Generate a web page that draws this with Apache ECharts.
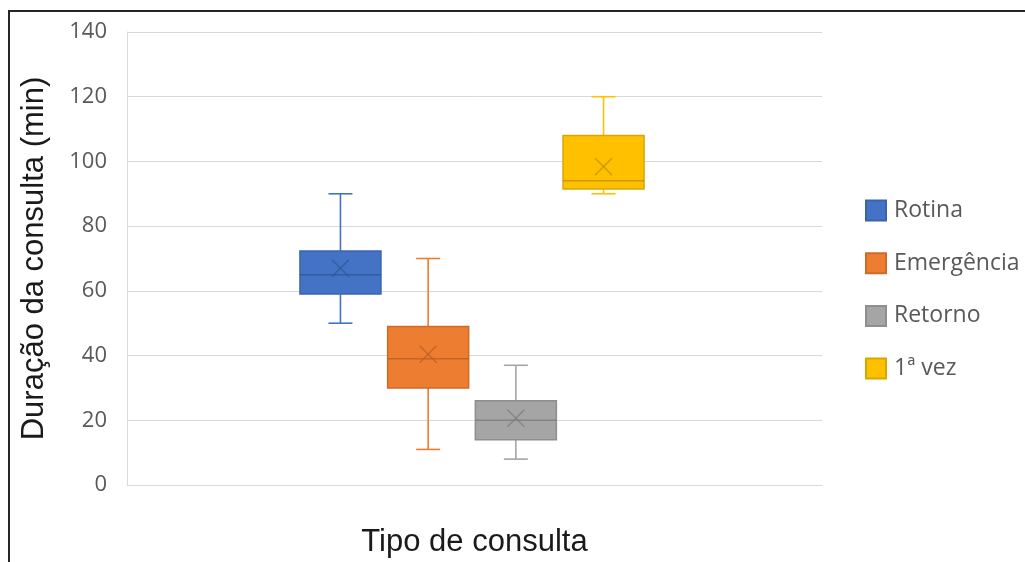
<!DOCTYPE html>
<html>
<head>
<meta charset="utf-8">
<script src="https://cdn.jsdelivr.net/npm/echarts@6/dist/echarts.min.js"></script>
<style>
html,body{margin:0;padding:0;background:#fff;}
#chart{width:1025px;height:562px;}
</style>
</head>
<body>
<div id="chart"></div>
<script>
// ---- data ----
const categories = ['Rotina', 'Emergência', 'Retorno', '1ª vez'];
const mins    = [50, 11, 8, 90];
const q1s     = [59, 30, 14, 91.5];
const medians = [65, 39, 20, 94];
const q3s     = [72.3, 49, 26, 108];
const maxs    = [90, 70, 37, 120];
const means   = [67, 40.4, 20.6, 98.4];
const yTicks  = [0, 20, 40, 60, 80, 100, 120, 140];

const fills   = ['#4472C4', '#ED7D31', '#A5A5A5', '#FFC000'];
const borders = ['#3A64B0', '#CF6A28', '#8E8E8E', '#D9A500'];
const darks   = ['#2F5597', '#B85F22', '#7A7A7A', '#BF9000'];

const STEP = 87.7, BOXW = 81, CAPW = 24, XS = 8.5, SHIFT = -2.5;

function makeRender(idx) {
  return function (params, api) {
    const cx = api.coord([0, 0])[0] + (idx - (categories.length - 1) / 2) * STEP + SHIFT;
    const y = k => api.coord([0, api.value(k)])[1];
    const yMin = y(1), yQ1 = y(2), yMed = y(3), yQ3 = y(4), yMax = y(5), yMean = y(6);
    const lineStyle = {stroke: fills[idx], lineWidth: 1.6, fill: null};
    const hw = BOXW / 2, cw = CAPW / 2;
    return {
      type: 'group',
      children: [
        {type: 'line', shape: {x1: cx, y1: yMax, x2: cx, y2: yQ3}, style: lineStyle},
        {type: 'line', shape: {x1: cx, y1: yQ1, x2: cx, y2: yMin}, style: lineStyle},
        {type: 'line', shape: {x1: cx - cw, y1: yMax, x2: cx + cw, y2: yMax}, style: lineStyle},
        {type: 'line', shape: {x1: cx - cw, y1: yMin, x2: cx + cw, y2: yMin}, style: lineStyle},
        {type: 'rect', shape: {x: cx - hw, y: yQ3, width: BOXW, height: yQ1 - yQ3},
         style: {fill: fills[idx], stroke: borders[idx], lineWidth: 1.5}},
        {type: 'line', shape: {x1: cx - hw, y1: yMed, x2: cx + hw, y2: yMed},
         style: {stroke: darks[idx], lineWidth: 1.5, opacity: 0.8}},
        {type: 'line', shape: {x1: cx - XS, y1: yMean - XS, x2: cx + XS, y2: yMean + XS},
         style: {stroke: darks[idx], lineWidth: 1.5, opacity: 0.7}},
        {type: 'line', shape: {x1: cx - XS, y1: yMean + XS, x2: cx + XS, y2: yMean - XS},
         style: {stroke: darks[idx], lineWidth: 1.5, opacity: 0.7}}
      ]
    };
  };
}

const series = categories.map((name, i) => ({
  name: name,
  type: 'custom',
  renderItem: makeRender(i),
  itemStyle: {color: fills[i], borderColor: borders[i], borderWidth: 1},
  encode: {x: 0, y: [1, 2, 3, 4, 5, 6]},
  data: [[0, mins[i], q1s[i], medians[i], q3s[i], maxs[i], means[i]]]
}));

const chart = echarts.init(document.getElementById('chart'), null, {renderer: 'canvas'});
chart.setOption({
  animation: false,
  backgroundColor: '#ffffff',
  grid: {left: 127, right: 203, top: 32, bottom: 77, containLabel: false, outerBoundsMode: 'none'},
  xAxis: {
    type: 'category',
    data: [''],
    axisLine: {show: true, lineStyle: {color: '#D9D9D9', width: 1}},
    axisTick: {show: false},
    axisLabel: {show: false},
    name: 'Tipo de consulta',
    nameLocation: 'middle',
    nameGap: 42,
    nameTextStyle: {fontFamily: 'Liberation Sans', fontSize: 31, color: '#1a1a1a'}
  },
  yAxis: {
    type: 'value',
    min: yTicks[0],
    max: yTicks[yTicks.length - 1],
    interval: yTicks[1] - yTicks[0],
    axisLine: {show: true, lineStyle: {color: '#D9D9D9', width: 1}},
    axisTick: {show: false},
    splitLine: {lineStyle: {color: '#D9D9D9', width: 1}},
    axisLabel: {margin: 20, fontFamily: 'Open Sans', fontSize: 22, color: '#595959'},
    name: 'Duração da consulta (min)',
    nameLocation: 'middle',
    nameRotate: 90,
    nameGap: 77,
    nameTextStyle: {fontFamily: 'Liberation Sans', fontSize: 31, color: '#1a1a1a'}
  },
  legend: {
    orient: 'vertical',
    left: 860,
    top: 194,
    itemWidth: 20,
    itemHeight: 20,
    itemGap: 29.7,
    icon: 'rect',
    data: categories,
    textStyle: {fontFamily: 'Open Sans', fontSize: 23, lineHeight: 20, color: '#595959', padding: [0, 0, 0, 3]}
  },
  graphic: [{
    type: 'polyline',
    shape: {points: [[9, 562], [9, 11], [1025, 11]]},
    style: {stroke: '#262626', lineWidth: 2, fill: null},
    silent: true
  }],
  series: series
});
</script>
</body>
</html>
